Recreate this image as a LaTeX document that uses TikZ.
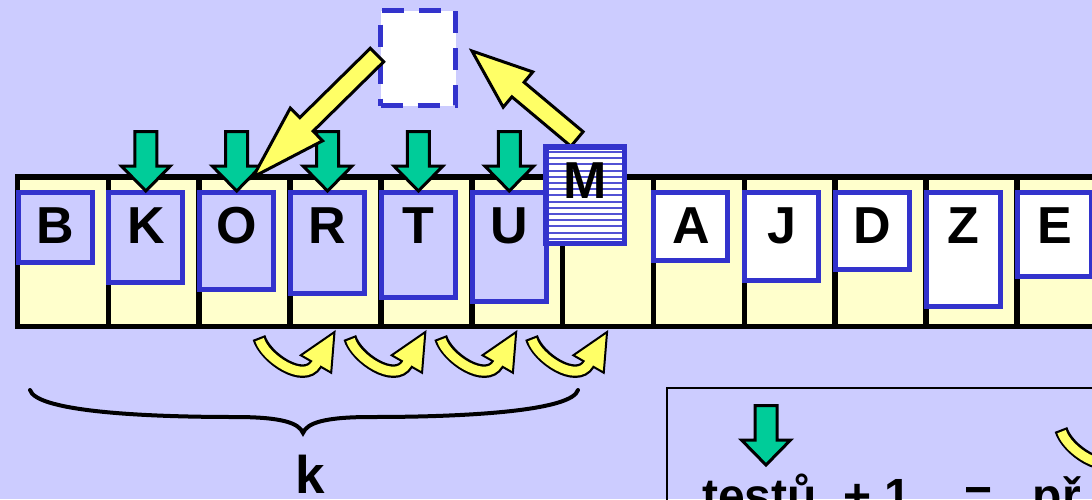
\documentclass[tikz,border=0pt]{standalone}
\usepackage{fontspec}
\setmainfont{Liberation Sans}
\usetikzlibrary{calc,positioning}
\definecolor{bgblue}{HTML}{CCCCFF}
\definecolor{cellyel}{HTML}{FFFFCC}
\definecolor{boxblue}{HTML}{3333CC}
\definecolor{testgreen}{HTML}{00CC99}
\definecolor{moveyel}{HTML}{FFFF66}

\newcommand{\testarrow}[1]{%
  \draw[testarr] ($(#1)+(-11,-59.5)$) -- ($(#1)+(11,-59.5)$) -- ($(#1)+(11,-25)$)
    -- ($(#1)+(24.5,-25)$) -- (#1) -- ($(#1)+(-24.5,-25)$) -- ($(#1)+(-11,-25)$) -- cycle;}

\newcommand{\bigarrow}[3]{%
  \draw[movearr] ($(#1)!9.5pt!90:(#2)$)
    -- ($(#2)!#3pt!(#1)!9.5pt!90:(#2)$)
    -- ($(#2)!#3pt!(#1)!23pt!90:(#2)$)
    -- (#2)
    -- ($(#2)!#3pt!(#1)!23pt!-90:(#2)$)
    -- ($(#2)!#3pt!(#1)!9.5pt!-90:(#2)$)
    -- ($(#1)!9.5pt!-90:(#2)$) -- cycle;}

\newcommand{\movecurl}[1]{%
  \begin{scope}[shift={(#1)}]
    \draw[line width=13.5pt,black] (259,337.5) .. controls (265,358) and (304,384) .. (316,364) -- (318,360.5);
    \draw[curlhead] (300.8,355.25) -- (334.5,332) -- (331.2,372.75) -- cycle;
    \draw[line width=9pt,moveyel,shorten <=2.2pt] (259,337.5) .. controls (265,358) and (304,384) .. (316,364) -- (318,360.5);
  \end{scope}}

\begin{document}
\begin{tikzpicture}[x=1pt,y=-1pt,
    cell/.style={draw=black,fill=cellyel,line width=5.5pt,minimum width=90.85pt,
                 minimum height=149.5pt,inner sep=0pt,outer sep=0pt},
    letterbox/.style={draw=boxblue,line width=5pt,anchor=north,minimum width=74pt,
                      inner sep=0pt,text height=50.5pt,font=\bfseries\fontsize{52}{52}\selectfont},
    sortbox/.style={letterbox,fill=bgblue},
    freebox/.style={letterbox,fill=white},
    slotbox/.style={draw=boxblue,fill=white,line width=5pt,dash pattern=on 22pt off 15pt,
                    minimum width=75pt,minimum height=95pt},
    stripe/.style={draw=boxblue!85,line width=2pt},
    testarr/.style={draw=black,fill=testgreen,line width=3pt},
    movearr/.style={draw=black,fill=moveyel,line width=3pt},
    curlhead/.style={draw=black,fill=moveyel,line width=2pt},
    bracepath/.style={line width=4pt,line cap=round},
    bigtext/.style={font=\bfseries\fontsize{53}{53}\selectfont,inner sep=0pt},
    legtext/.style={font=\bfseries\fontsize{48}{48}\selectfont,inner sep=0pt}
  ]
  \useasboundingbox (0,0) rectangle (1092,499);
  \clip (0,0) rectangle (1092,499);
  \fill[bgblue] (0,0) rectangle (1092,499);

  \foreach \i in {1,...,12}
    \node[cell] (c\i) at ({17.5+90.85*(\i-0.5)},251.75) {};

  \foreach \i/\ch/\dep/\sty in {1/B/19.5/sortbox,2/K/39.5/sortbox,3/O/46.5/sortbox,
      4/R/50.5/sortbox,5/T/54.5/sortbox,6/U/58.5/sortbox,8/A/17.5/freebox,
      9/J/37.5/freebox,10/D/26.5/freebox,11/Z/63.5/freebox,12/E/33.5/freebox}
    \node[\sty,text depth=\dep pt] (\ch) at ($(c\i.north west)+(37.5,13)$) {\ch};

  \foreach \ch in {K,O,R,T,U} {
    \coordinate (t\ch) at ($(\ch.north)+(0,1)$);
    \testarrow{t\ch}
  }

  \node[slotbox] (slot) at (418,58) {};

  \coordinate (slotout) at (377,55);
  \coordinate (Oin) at (253,177);
  \coordinate (Mout) at (577,139);
  \coordinate (slotin) at (472,51);
  \bigarrow{slotout}{Oin}{75}
  \bigarrow{Mout}{slotin}{60}

  \node[freebox,line width=5.5pt,minimum width=78.5pt,text height=51.25pt,text depth=45.25pt,
        path picture={\foreach \k in {0,...,14}
          {\draw[stripe] ([yshift={-(5.2+6.2*\k)*1pt}]path picture bounding box.north west) -- ++(90pt,0pt);}}]
    (M) at (585,144) {M};

  \foreach \i in {0,...,3} {\movecurl{\i*90.85,0}}

  \draw[bracepath] (30,390) .. controls (36,410) and (130,417) .. (235,417)
    .. controls (282,417) and (299,423) .. (303,433)
    .. controls (307,423) and (324,417) .. (371,417)
    .. controls (476,417) and (572,410) .. (578,390);
  \node[bigtext,anchor=base] (k) at (310,493) {k};

  \draw[line width=1.5pt] (667,388) rectangle (1120,530);
  \coordinate (legtip) at (766,465);
  \testarrow{legtip}
  \movecurl{802,92}
  \node[legtext,anchor=base west] (legend) at (702,512) {testů\ \ +\ 1\ \ \ \ =\ \ \ př};
\end{tikzpicture}
\end{document}
